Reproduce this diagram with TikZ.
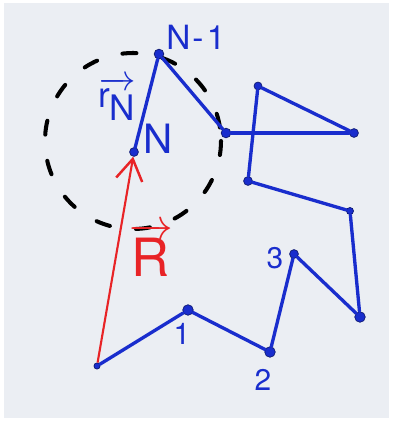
\documentclass[tikz,border=0pt]{standalone}
\usepackage{fontspec}
\setsansfont{TeX Gyre Heros}
\usetikzlibrary{arrows.meta, positioning}

\definecolor{paper}{RGB}{235,238,243}
\definecolor{inkblue}{RGB}{25,45,205}
\definecolor{inkred}{RGB}{232,35,38}

\tikzset{
  bead/.style={circle, fill=inkblue, draw=inkblue!55!black, line width=0.4pt, inner sep=0pt, minimum size=#1},
  bead/.default=5pt,
  bond/.style={inkblue, line width=1.9pt, line cap=round},
  lbl/.style={inkblue, font=\sffamily\fontsize{#1}{#1}\selectfont},
  lbl/.default=17pt
}

\begin{document}
\begin{tikzpicture}[x=0.02cm, y=-0.02cm]
% paper
\fill[white] (0,0) rectangle (393,423);
\fill[paper] (4,3) rectangle (389,418);
\useasboundingbox (0,0) rectangle (393,423);

% dashed sphere round the chain end
\draw[black, line width=2.3pt, line cap=round, dash pattern=on 8pt off 15pt] (133,141) circle[radius=88];

% beads of the chain
\foreach \n/\x/\y/\s in {0/97/366/3.5pt, 1/188/310/6pt, 2/270/352/6pt, 3/294/254/5pt,
    4/360/317/6pt, 5/350/211/4pt, 6/248/181/5pt, 7/258/86/4.5pt, 8/354/133/5pt,
    9/226/133/5.5pt, 10/159/54/5.5pt, 11/134/152/5pt} {
    \node[bead=\s] (m\n) at (\x,\y) {};
}
% bonds
\foreach \a [count=\b] in {0,...,10} {
    \draw[bond] (m\a) -- (m\b);
}

% end-to-end vector
\draw[inkred, line width=1.2pt, -{Straight Barb[length=12pt, width=15pt, line width=1.4pt]}] (m0) -- (m11);

% labels
\node[lbl] (l1) at (182,334) {1};
\node[lbl] (l2) at (263,380) {2};
\node[lbl] (l3) at (275,258) {3};
\node[lbl=19pt] (lN1) at (196,37) {N\kern1pt-\kern2pt1};
\node[lbl=23pt] (lN) at (158,139) {N};
\node[inkblue, font=\fontsize{20pt}{20pt}\selectfont] (rN) at (117,99) {$\overrightarrow{\mathsf{r}_{\textstyle\mathsf{N}}}$};
\node[inkred, font=\fontsize{30pt}{30pt}\selectfont] (lR) at (151,250) {$\overrightarrow{\mathsf{R}}$};
\end{tikzpicture}
\end{document}
